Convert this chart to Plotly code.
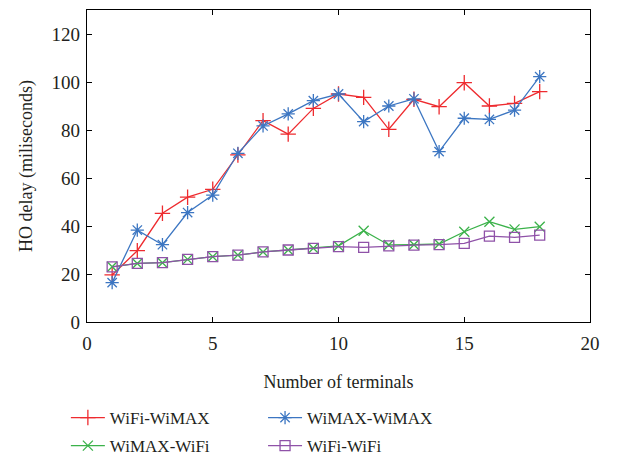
import plotly.graph_objects as go

terminals = list(range(1, 19))
wifi_wimax = [19.6, 29.7, 45.3, 52.0, 55.3, 69.6, 83.9, 78.3, 89.0, 95.0, 93.6, 80.3, 92.8, 89.7, 99.7, 90.0, 91.1, 96.0]
wimax_wimax = [16.4, 38.3, 32.2, 45.6, 52.9, 70.3, 81.7, 86.7, 92.2, 95.0, 83.5, 90.0, 93.0, 71.0, 84.9, 84.4, 88.3, 102.2]
wimax_wifi = [23.0, 24.4, 24.7, 26.1, 27.2, 27.9, 29.2, 30.0, 30.7, 31.7, 38.0, 32.1, 32.2, 32.5, 37.6, 41.8, 38.6, 39.7]
wifi_wifi = [23.0, 24.4, 24.7, 26.1, 27.2, 27.9, 29.2, 30.0, 30.7, 31.4, 31.1, 31.7, 32.0, 32.2, 32.8, 35.8, 35.3, 36.2]

x_ticks = [0, 5, 10, 15, 20]
y_ticks = [0, 20, 40, 60, 80, 100, 120]

FONT = "Liberation Serif"
TXT = "#231f20"

series = [
    ("WiFi-WiMAX", wifi_wimax, "#ee2b2f", "cross-thin", 11, "legend"),
    ("WiMAX-WiMAX", wimax_wimax, "#3c76c2", "asterisk", 11, "legend2"),
    ("WiMAX-WiFi", wimax_wifi, "#3bb24a", "x-thin", 10, "legend"),
    ("WiFi-WiFi", wifi_wifi, "#8f52a8", "square-open", 10, "legend2"),
]

fig = go.Figure()
for name, vals, color, sym, size, leg in series:
    fig.add_trace(go.Scatter(
        x=terminals, y=vals, name=name, mode="lines+markers",
        line=dict(color=color, width=1.3),
        marker=dict(symbol=sym, size=size, color=color,
                    line=dict(color=color, width=1.3)),
        legend=leg, legendgroup=name,
    ))

axis_common = dict(
    showgrid=False, zeroline=False, showline=True, linecolor="black", linewidth=1.2,
    mirror="ticks", ticks="inside", ticklen=5, tickcolor="black", tickwidth=1,
    tickfont=dict(family=FONT, size=19, color=TXT), automargin=False,
)

fig.update_xaxes(range=[0, 20], tickvals=x_ticks, ticklabelstandoff=4,
                 title=dict(text="Number of terminals", font=dict(family=FONT, size=18, color=TXT), standoff=22),
                 **axis_common)
fig.update_yaxes(range=[0, 130], tickvals=y_ticks, ticklabelstandoff=2,
                 title=dict(text="HO delay (miliseconds)", font=dict(family=FONT, size=18, color=TXT), standoff=14),
                 **axis_common)

leg_common = dict(
    orientation="v", xanchor="left", y=-0.25, yanchor="top",
    font=dict(family=FONT, size=17, color=TXT),
    tracegroupgap=3, itemwidth=34, bgcolor="rgba(0,0,0,0)",
)

# page has an 8px body margin; compensate so the plot area matches the reference
fig.update_layout(
    template="none",
    width=629, height=448,
    margin=dict(l=79, r=47, t=2, b=134, autoexpand=False),
    paper_bgcolor="white", plot_bgcolor="white",
    font=dict(family=FONT, size=18, color=TXT),
    showlegend=True,
    legend=dict(x=-0.042, **leg_common),
    legend2=dict(x=0.35, **leg_common),
)

fig.write_html("out.html")
